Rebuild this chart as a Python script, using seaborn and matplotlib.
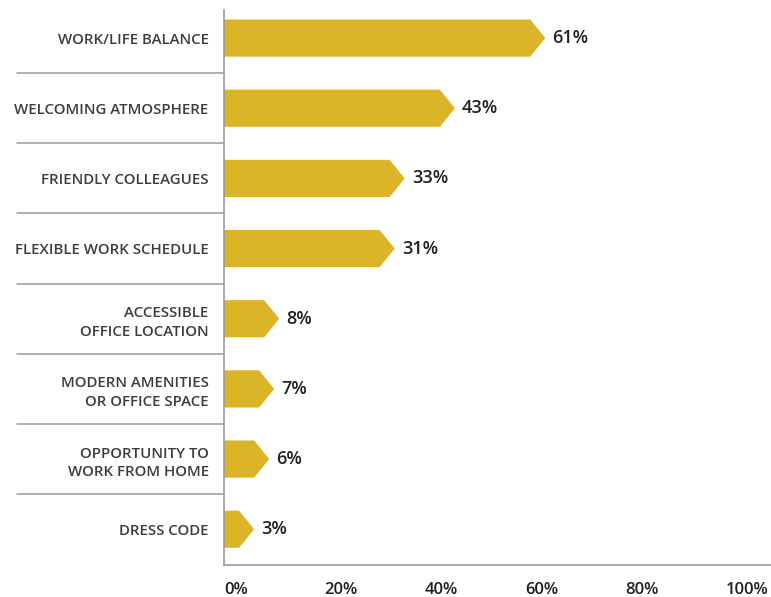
import matplotlib
matplotlib.use("Agg")
import matplotlib.pyplot as plt
from matplotlib.patches import Polygon
import seaborn as sns
import pandas as pd

# Survey results: share of respondents choosing each workplace factor
categories = [
    "WORK/LIFE BALANCE",
    "WELCOMING ATMOSPHERE",
    "FRIENDLY COLLEAGUES",
    "FLEXIBLE WORK SCHEDULE",
    "ACCESSIBLE\nOFFICE LOCATION",
    "MODERN AMENITIES\nOR OFFICE SPACE",
    "OPPORTUNITY TO\nWORK FROM HOME",
    "DRESS CODE",
]
values = [61, 43, 33, 31, 8, 7, 6, 3]
tick_values = [0, 20, 40, 60, 80, 100]
tick_labels = ["0%", "20%", "40%", "60%", "80%", "100%"]

BAR = "#DCB428"
GRID = "#9a9a9a"
LABEL = "#3d3d3d"
DARK = "#231f20"

sns.set_theme(style="white")
plt.rcParams["font.family"] = ["Open Sans", "DejaVu Sans"]

df = pd.DataFrame({"factor": categories, "pct": values})

fig = plt.figure(figsize=(7.71, 5.97), dpi=100)
ax = fig.add_axes([224 / 771, 1 - 565 / 597, 547 / 771, 555 / 597])

sns.barplot(data=df, x="pct", y="factor", orient="h", color=BAR,
            saturation=1, width=0.53, ax=ax)

tip = 3.0  # arrow-point length in data units
for patch, v in zip(list(ax.patches), values):
    x0 = patch.get_x()
    y0 = patch.get_y()
    h = patch.get_height()
    x1 = x0 + patch.get_width()
    # pentagon covering the bar body plus its pointed end
    patch.set_visible(False)
    ax.add_patch(Polygon([(x0, y0), (x1, y0), (x1 + tip, y0 + h / 2),
                          (x1, y0 + h), (x0, y0 + h)],
                         closed=True, facecolor=BAR, edgecolor="none",
                         linewidth=0))
    ax.text(x1 + tip + 1.4, y0 + h / 2, f"{v}%", ha="left", va="center",
            fontsize=13, color=DARK, fontweight="semibold")

ax.set_xlim(0, 547 / 5.02)
ax.set_ylim(7.51, -0.40)

# separators between category labels
for i in range(len(categories) - 1):
    ax.plot([-0.378, 0], [i + 0.5, i + 0.5], transform=ax.get_yaxis_transform(),
            color=GRID, linewidth=1.1, clip_on=False)

ax.set_xticks(tick_values)
ax.set_xticklabels(tick_labels, ha="left", fontweight="semibold")
ax.tick_params(axis="x", length=0, pad=12, labelsize=12, labelcolor=DARK)
ax.tick_params(axis="y", length=0, pad=11, labelsize=10.8, labelcolor=LABEL)
for lbl in ax.get_yticklabels():
    lbl.set_linespacing(1.4)
    lbl.set_fontweight("semibold")

ax.set_xlabel("")
ax.set_ylabel("")
for side in ["top", "right"]:
    ax.spines[side].set_visible(False)
for side in ["left", "bottom"]:
    ax.spines[side].set_color(GRID)
    ax.spines[side].set_linewidth(1.2)

fig.savefig("out.png", dpi=100)
